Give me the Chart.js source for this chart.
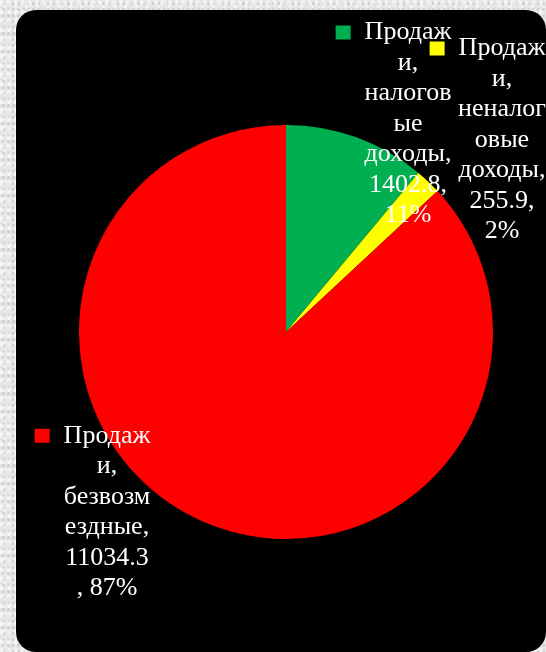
<!DOCTYPE html>
<html>
<head>
<meta charset="utf-8">
<script src="https://cdn.jsdelivr.net/npm/chart.js@4"></script>
<style>
  html, body { margin: 0; padding: 0; }
  body {
    width: 546px; height: 652px; overflow: hidden; position: relative;
    background-color: #e6e6e6;
    background-image:
      radial-gradient(circle at 20% 30%, rgba(255,255,255,0.6) 0 2px, transparent 3px),
      radial-gradient(circle at 70% 60%, rgba(160,160,160,0.35) 0 1px, transparent 2px),
      radial-gradient(circle at 40% 80%, rgba(255,255,255,0.5) 0 1px, transparent 2px);
    background-size: 7px 9px, 5px 6px, 11px 8px;
  }
  #panel {
    position: absolute; left: 16px; top: 10px; width: 530px; height: 642px;
    background: #000; border-radius: 20px;
  }
  #wrap { position: absolute; left: 0; top: 0; width: 546px; height: 652px; }
</style>
</head>
<body>
<div id="panel"></div>
<div id="wrap"><canvas id="pieChart"></canvas></div>
<script>
const categories = ['Продажи, налоговые доходы', 'Продажи, неналоговые доходы', 'Продажи, безвозмездные'];
const values = [1402.8, 255.9, 11034.3];
const percents = [11, 2, 87];
const colors = ['#00b050', '#ffff00', '#ff0000'];

// Position du centre de chaque étiquette, décalage depuis le centre du camembert
const labelOffsets = [[122, -208], [216, -192], [-179, 180]];

function wrapText(ctx, text, maxW) {
    const words = text.split(' ');
    const lines = [];
    let cur = '';
    for (const w of words) {
        const trial = cur ? cur + ' ' + w : w;
        if (ctx.measureText(trial).width <= maxW) { cur = trial; continue; }
        if (cur) { lines.push(cur); cur = ''; }
        let piece = '';
        for (const ch of w) {
            if (!piece || ctx.measureText(piece + ch).width <= maxW) piece += ch;
            else { lines.push(piece); piece = ch; }
        }
        cur = piece;
    }
    if (cur) lines.push(cur);
    return lines;
}

const labelPlugin = {
    id: 'etiquettes',
    afterDatasetsDraw(chart) {
        const ctx = chart.ctx;
        const arcs = chart.getDatasetMeta(0).data;
        const lineH = 30.5;
        ctx.save();
        ctx.font = '26px "Liberation Serif", "Times New Roman", serif';
        ctx.textAlign = 'center';
        ctx.textBaseline = 'middle';
        arcs.forEach((arc, i) => {
            const text = `${categories[i]}, ${values[i]}, ${percents[i]}%`;
            const lines = wrapText(ctx, text, 89);
            const cx = arc.x + labelOffsets[i][0];
            const cy = arc.y + labelOffsets[i][1];
            const y0 = cy - (lines.length - 1) * lineH / 2;
            ctx.fillStyle = '#fff';
            lines.forEach((ln, k) => ctx.fillText(ln, cx, y0 + k * lineH));
            const w0 = ctx.measureText(lines[0]).width;
            ctx.fillStyle = colors[i];
            ctx.fillRect(cx - w0 / 2 - 29, y0 - 7, 15, 14);
        });
        ctx.restore();
    }
};

const ctx = document.getElementById('pieChart').getContext('2d');
const pieChart = new Chart(ctx, {
    type: 'pie',
    data: {
        labels: categories,
        datasets: [{
            data: values,
            backgroundColor: colors,
            borderWidth: 0
        }]
    },
    options: {
        responsive: true,
        maintainAspectRatio: false,
        animation: false,
        layout: { padding: { left: 79, right: 53, top: 125, bottom: 113 } },
        plugins: {
            legend: { display: false },
            tooltip: { enabled: false }
        }
    },
    plugins: [labelPlugin]
});
</script>
</body>
</html>
